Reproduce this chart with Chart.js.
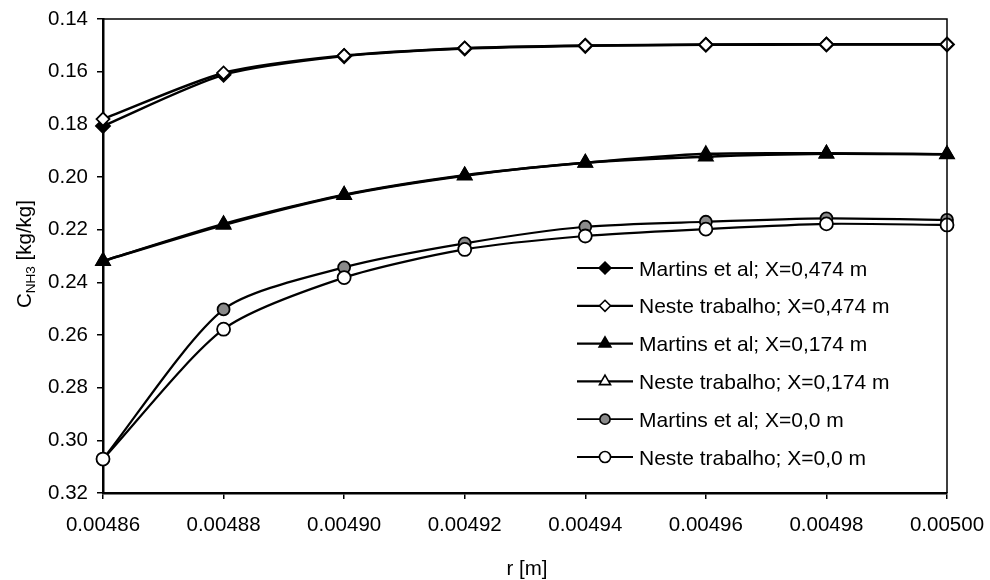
<!DOCTYPE html>
<html>
<head>
<meta charset="utf-8">
<script src="https://cdn.jsdelivr.net/npm/chart.js@4/dist/chart.umd.min.js"></script>
<style>
html,body{margin:0;padding:0;background:#fff;}
#wrap{width:990px;height:580px;position:relative;}
</style>
</head>
<body>
<div id="wrap"><canvas id="c" width="990" height="580"></canvas></div>
<script>
// ---- data ----
const rValues = [0.00486, 0.00488, 0.00490, 0.00492, 0.00494, 0.00496, 0.00498, 0.00500];
const xTickValues = [0.00486, 0.00488, 0.00490, 0.00492, 0.00494, 0.00496, 0.00498, 0.00500];
const yTickValues = [0.14, 0.16, 0.18, 0.20, 0.22, 0.24, 0.26, 0.28, 0.30, 0.32];

const martins474 = [0.1806, 0.1612, 0.1541, 0.1512, 0.1502, 0.1498, 0.1497, 0.1497];
const neste474   = [0.1780, 0.1605, 0.1539, 0.1511, 0.1501, 0.1497, 0.1496, 0.1496];
const martins174 = [0.2319, 0.2182, 0.2069, 0.1995, 0.1946, 0.1923, 0.1912, 0.1914];
const neste174   = [0.2319, 0.2178, 0.2067, 0.1993, 0.1946, 0.1912, 0.1910, 0.1914];
const martins00  = [0.3071, 0.2503, 0.2343, 0.2252, 0.2189, 0.2170, 0.2157, 0.2163];
const neste00    = [0.3071, 0.2578, 0.2382, 0.2275, 0.2224, 0.2198, 0.2178, 0.2182];

const seriesLabels = [
  'Martins et al; X=0,474 m',
  'Neste trabalho; X=0,474 m',
  'Martins et al; X=0,174 m',
  'Neste trabalho; X=0,174 m',
  'Martins et al; X=0,0 m',
  'Neste trabalho; X=0,0 m'
];
const xTitle = 'r [m]';
const yTitleMain = 'C';
const yTitleSub = 'NH3';
const yTitleRest = ' [kg/kg]';

// ---- styling ----
const FONT = 'Liberation Sans';
const FS = 20.5;
const FSL = 21;
const toPts = arr => arr.map((v, i) => ({x: rValues[i], y: v}));

const styles = [
  {style:'rectRot', radius:7, fill:'#000', lw:2.5, order:1},
  {style:'rectRot', radius:6.5, fill:'#fff', lw:2.5, order:0},
  {style:'triangle', radius:8, fill:'#000', lw:2.5, order:2},
  {style:'triangle', radius:7.5, fill:'#fff', lw:2.5, order:3},
  {style:'circle', radius:6, fill:'#8a8a8a', lw:2.2, order:5},
  {style:'circle', radius:6.5, fill:'#fff', lw:2.2, order:4}
];
const allData = [martins474, neste474, martins174, neste174, martins00, neste00];

const datasets = allData.map((d, i) => ({
  label: seriesLabels[i],
  data: toPts(d),
  borderColor: '#000',
  backgroundColor: styles[i].fill,
  borderWidth: styles[i].lw,
  pointStyle: styles[i].style,
  pointRadius: styles[i].radius,
  pointBackgroundColor: styles[i].fill,
  pointBorderColor: '#000',
  pointBorderWidth: 1.8,
  tension: 0.25,
  fill: false,
  clip: false,
  order: styles[i].order
}));

function drawMarker(ctx, st, x, y, r) {
  ctx.beginPath();
  if (st === 'rectRot') {
    ctx.moveTo(x, y - r); ctx.lineTo(x + r, y); ctx.lineTo(x, y + r); ctx.lineTo(x - r, y); ctx.closePath();
  } else if (st === 'triangle') {
    const w = r * Math.sqrt(3) / 2;
    ctx.moveTo(x, y - r); ctx.lineTo(x + w, y + r / 2); ctx.lineTo(x - w, y + r / 2); ctx.closePath();
  } else {
    ctx.arc(x, y, r, 0, Math.PI * 2);
  }
}

const overlay = {
  id: 'overlay',
  afterDraw(chart) {
    const ctx = chart.ctx;
    const a = chart.chartArea;
    ctx.save();
    // top and right border
    ctx.strokeStyle = '#000';
    ctx.lineWidth = 1.5;
    ctx.beginPath();
    ctx.moveTo(a.left, a.top); ctx.lineTo(a.right, a.top); ctx.lineTo(a.right, a.bottom);
    ctx.stroke();

    // legend
    const rowY0 = 268, rowStep = 37.8;
    const lx0 = 577, lx1 = 633, mx = 605, tx = 639;
    ctx.font = FSL + 'px "' + FONT + '"';
    ctx.fillStyle = '#000';
    ctx.textAlign = 'left';
    ctx.textBaseline = 'alphabetic';
    chart.data.datasets.forEach((ds, i) => {
      const y = rowY0 + i * rowStep;
      ctx.strokeStyle = '#000';
      ctx.lineWidth = i >= 4 ? 1.8 : 2.2;
      ctx.beginPath(); ctx.moveTo(lx0, y); ctx.lineTo(lx1, y); ctx.stroke();
      const r = ds.pointRadius * 0.85;
      drawMarker(ctx, ds.pointStyle, mx, y, r);
      ctx.fillStyle = ds.pointBackgroundColor;
      ctx.fill();
      ctx.lineWidth = 1.6;
      ctx.stroke();
      ctx.fillStyle = '#000';
      ctx.fillText(ds.label, tx, y + 0.716 * FSL / 2);
    });

    // x title
    ctx.font = FS + 'px "' + FONT + '"';
    ctx.textAlign = 'center';
    ctx.fillText(xTitle, 527, 575);

    // y title with subscript
    ctx.translate(24, 254);
    ctx.rotate(-Math.PI / 2);
    const fMain = FS + 'px "' + FONT + '"';
    const fSub = '13.5px "' + FONT + '"';
    ctx.font = fMain; const w1 = ctx.measureText(yTitleMain).width;
    ctx.font = fSub; const w2 = ctx.measureText(yTitleSub).width;
    ctx.font = fMain; const w3 = ctx.measureText(yTitleRest).width;
    let x = -(w1 + w2 + w3) / 2;
    const base = 7;
    ctx.textAlign = 'left';
    ctx.font = fMain; ctx.fillText(yTitleMain, x, base); x += w1;
    ctx.font = fSub; ctx.fillText(yTitleSub, x, base + 4); x += w2;
    ctx.font = fMain; ctx.fillText(yTitleRest, x, base);
    ctx.restore();
  }
};

new Chart(document.getElementById('c'), {
  type: 'line',
  data: { datasets },
  options: {
    responsive: false,
    animation: false,
    devicePixelRatio: 1,
    layout: { padding: { left: 0, right: 43, top: 19, bottom: 0 } },
    plugins: { legend: { display: false }, tooltip: { enabled: false } },
    scales: {
      x: {
        type: 'linear',
        min: xTickValues[0],
        max: xTickValues[xTickValues.length - 1],
        afterBuildTicks: s => { s.ticks = xTickValues.map(v => ({value: v})); },
        afterFit: s => { s.height = 87; s.paddingLeft = 0; s.paddingRight = 0; },
        ticks: {
          color: '#000',
          font: { family: FONT, size: FS },
          padding: 14,
          maxRotation: 0,
          autoSkip: false,
          callback: v => Number(v).toFixed(5)
        },
        grid: { display: true, drawOnChartArea: false, drawTicks: true, tickLength: 6, color: '#000', lineWidth: 1.5 },
        border: { display: true, color: '#000', width: 2.5 }
      },
      y: {
        type: 'linear',
        reverse: true,
        min: yTickValues[0],
        max: yTickValues[yTickValues.length - 1],
        afterBuildTicks: s => { s.ticks = yTickValues.map(v => ({value: v})); },
        afterFit: s => { s.width = 103; s.paddingTop = 0; s.paddingBottom = 0; },
        ticks: {
          color: '#000',
          font: { family: FONT, size: FS },
          padding: 9,
          autoSkip: false,
          callback: v => Number(v).toFixed(2)
        },
        grid: { display: true, drawOnChartArea: false, drawTicks: true, tickLength: 6, color: '#000', lineWidth: 1.5 },
        border: { display: true, color: '#000', width: 2.5 }
      }
    }
  },
  plugins: [overlay]
});
</script>
</body>
</html>
